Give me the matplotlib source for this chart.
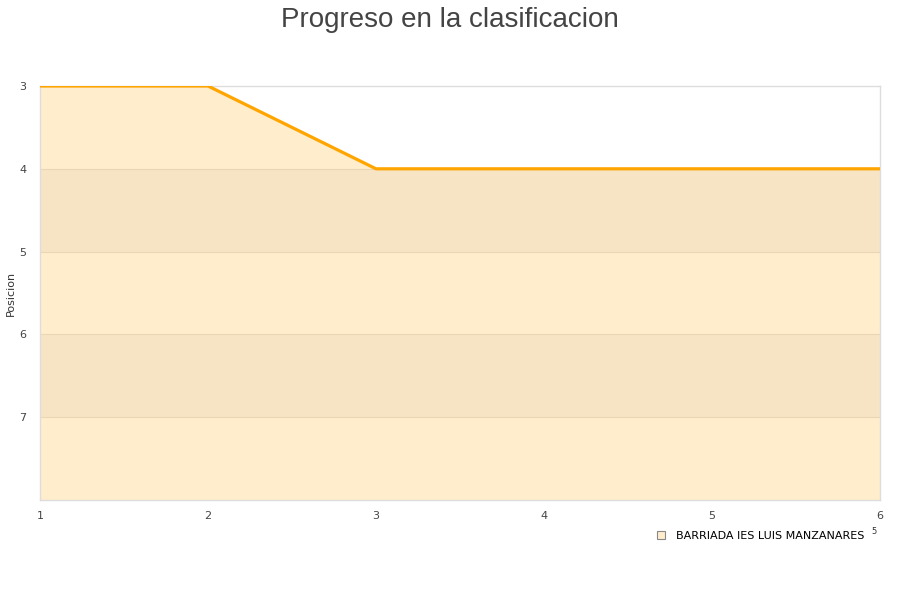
import matplotlib
matplotlib.use("Agg")
import matplotlib.pyplot as plt
from matplotlib.lines import Line2D

# datos de la clasificacion por jornada
jornadas = [1, 2, 3, 4, 5, 6]
posicion = [3, 3, 4, 4, 4, 4]
equipo = "BARRIADA IES LUIS MANZANARES"
y_ticks = [3, 4, 5, 6, 7]

fill_color = "#ffedcc"
band_color = "#f7e4c4"
line_color = "#ffa500"

fig = plt.figure(figsize=(9, 6), dpi=100)
ax = fig.add_axes([40 / 900, 100 / 600, 840 / 900, 414 / 600])

ax.set_xlim(1, 6)
ax.set_ylim(8, 3)

ax.fill_between(jornadas, posicion, 8, color=fill_color, linewidth=0, zorder=1)
# bandas alternas bajo la linea
for lo in (4, 6):
    ax.fill_between(jornadas, [max(p, lo) for p in posicion], lo + 1,
                    color=band_color, linewidth=0, zorder=1.5)
for t in (4, 5, 6, 7):
    ax.axhline(t, color="#ead5b4", linewidth=0.8, zorder=2)

ax.plot(jornadas, posicion, color=line_color, linewidth=2.3, zorder=3)

ax.set_xticks(jornadas)
ax.set_yticks(y_ticks)
ax.tick_params(length=0, labelsize=8, colors="#444444", pad=8)
ax.tick_params(axis="y", pad=10)
for s in ax.spines.values():
    s.set_color("#dddddd")
    s.set_linewidth(1)

fig.text(11 / 900, 1 - 293 / 600, "Posicion", fontsize=8, color="#333333",
         rotation=90, ha="center", va="center")

fig.text(0.5, 0.988, "Progreso en la clasificacion", ha="center", va="top",
         fontsize=20, color="#444444", family="Liberation Sans")

handle = Line2D([], [], marker="s", linestyle="none", markersize=6,
                markerfacecolor=fill_color, markeredgecolor="#888888", markeredgewidth=0.8)
fig.legend([handle], [equipo], loc="center left", bbox_to_anchor=(645 / 900, 1 - 536 / 600),
           frameon=False, fontsize=8, handletextpad=0.4, borderaxespad=0)
fig.text(874 / 900, 1 - 532 / 600, "5", fontsize=6, color="#333333", ha="center", va="center")

fig.savefig("out.png", dpi=100)
